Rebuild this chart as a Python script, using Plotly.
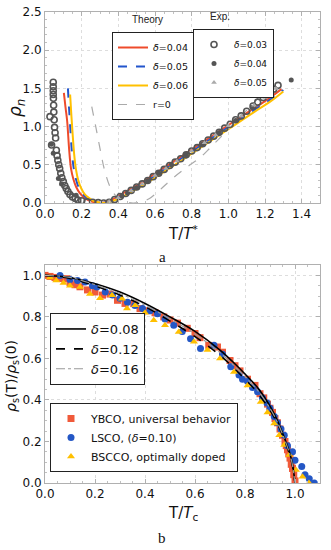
import plotly.graph_objects as go

# ---------------- Panel (a) data ----------------
th04_T = [0.103,0.112,0.121,0.132,0.142,0.155,0.170,0.190,0.212,0.238,0.265,0.295,0.33,0.37,0.42,0.48,0.55,0.63,0.72,0.82,0.92,1.02,1.12,1.21,1.29]
th04_r = [1.44,1.25,1.07,0.69,0.45,0.31,0.21,0.13,0.075,0.035,0.012,0.002,0.01,0.05,0.12,0.20,0.30,0.43,0.57,0.73,0.89,1.05,1.21,1.35,1.49]
th05_T = [0.125,0.131,0.138,0.147,0.157,0.169,0.183,0.202,0.224,0.25,0.277,0.305,0.34,0.38,0.43,0.49,0.56,0.64,0.73,0.83,0.93,1.03,1.13,1.22,1.30]
th05_r = [1.50,1.25,0.98,0.66,0.45,0.31,0.21,0.13,0.075,0.035,0.012,0.002,0.01,0.05,0.11,0.19,0.29,0.42,0.56,0.72,0.88,1.04,1.20,1.34,1.48]
th06_T = [0.137,0.143,0.150,0.159,0.169,0.181,0.196,0.215,0.237,0.262,0.29,0.318,0.35,0.39,0.44,0.50,0.57,0.65,0.74,0.84,0.94,1.04,1.14,1.23,1.30]
th06_r = [1.42,1.18,0.93,0.64,0.44,0.30,0.20,0.12,0.07,0.03,0.01,0.0,0.008,0.045,0.105,0.185,0.285,0.41,0.55,0.71,0.87,1.03,1.19,1.33,1.46]
r0_T = [0.255,0.27,0.285,0.305,0.325,0.355,0.385,0.42,0.45,0.48,0.52,0.57,0.626,0.70,0.78,0.844,0.90,0.953,1.02,1.09,1.15,1.198]
r0_r = [1.26,1.08,0.90,0.65,0.43,0.21,0.10,0.04,0.01,0.0,0.01,0.06,0.17,0.33,0.48,0.59,0.72,0.85,1.02,1.19,1.34,1.49]

ex03_T = [0.027,0.045,0.045,0.045,0.045,0.046,0.047,0.048,0.050,0.052,0.055,0.036,0.058,0.062,0.066,0.070,0.075,0.080,0.086,0.092,0.100,0.108,0.116,0.125,0.136,0.15,0.165,0.18,0.20,0.23,0.26,0.29,
          0.32,0.35,0.38,0.41,0.44,0.47,0.50,0.53,0.56,0.59,0.62,0.65,0.68,0.71,0.74,0.77,0.80,0.83,0.86,0.89,0.92,0.95,0.98,1.01,1.04,1.07,1.10,1.135,1.16,1.19,1.216,1.247,1.271]
ex03_r = [1.13,1.58,1.52,1.47,1.42,1.37,1.28,1.19,1.09,0.99,0.92,0.76,0.85,0.69,0.62,0.56,0.50,0.45,0.39,0.33,0.28,0.23,0.19,0.15,0.11,0.08,0.06,0.04,0.03,0.015,0.01,0.005,
          0.0,0.01,0.045,0.085,0.125,0.165,0.21,0.25,0.295,0.345,0.39,0.44,0.49,0.535,0.58,0.63,0.68,0.725,0.775,0.825,0.875,0.925,0.98,1.03,1.09,1.14,1.20,1.27,1.32,1.38,1.43,1.49,1.54]
ex04_T = [0.035,0.045,0.073,0.09,0.17,0.42,0.45,0.50,0.56,0.62,0.69,0.77,0.86,0.95,1.04,1.13,1.22,1.343]
ex04_r = [0.77,0.65,0.32,0.25,0.10,0.09,0.13,0.20,0.29,0.39,0.50,0.63,0.77,0.92,1.08,1.25,1.41,1.61]
ex05_T = [0.35,0.40,0.47,0.53,0.60,0.66,0.72,0.80,0.87,0.93,1.00,1.07,1.14,1.20,1.26]
ex05_r = [0.02,0.07,0.16,0.25,0.36,0.45,0.55,0.68,0.79,0.89,1.01,1.14,1.28,1.38,1.50]

# ---------------- Panel (b) data ----------------
thb_T = [0.0,0.1,0.2,0.3,0.4,0.5,0.6,0.7,0.75,0.8,0.85,0.9,0.93,0.96,0.98,0.99,1.0]
thb08 = [1.0,0.99,0.96,0.92,0.865,0.80,0.73,0.64,0.585,0.525,0.46,0.37,0.30,0.21,0.14,0.09,0.0]
thb12 = [1.0,0.985,0.95,0.905,0.85,0.78,0.705,0.615,0.56,0.50,0.435,0.35,0.285,0.20,0.13,0.08,0.0]
thb16 = [1.0,0.99,0.955,0.912,0.857,0.79,0.718,0.628,0.572,0.512,0.447,0.36,0.292,0.205,0.135,0.085,0.0]

ybco_T = [0.0,0.02,0.04,0.06,0.087,0.10,0.12,0.14,0.17,0.20,0.23,0.26,0.29,0.32,0.355,0.38,0.41,0.44,0.475,0.50,0.53,0.569,0.60,0.62,0.655,0.69,0.71,0.74,0.76,0.78,0.81,0.84,0.86,0.875,0.89,0.90,0.91,0.92,0.93,0.94,0.95,0.96,0.965,0.97,0.975,0.98,0.985,0.99,0.995,1.0]
ybco_r = [1.0,0.995,0.99,0.985,0.984,0.965,0.955,0.945,0.93,0.92,0.905,0.91,0.88,0.865,0.864,0.84,0.83,0.82,0.80,0.785,0.77,0.745,0.72,0.70,0.663,0.655,0.63,0.59,0.565,0.54,0.50,0.47,0.43,0.41,0.38,0.36,0.34,0.31,0.29,0.26,0.23,0.20,0.18,0.16,0.14,0.12,0.09,0.07,0.04,0.01]
lsco_T = [0.06,0.10,0.13,0.16,0.19,0.207,0.241,0.27,0.30,0.33,0.36,0.39,0.42,0.45,0.48,0.515,0.549,0.582,0.622,0.676,0.71,0.743,0.776,0.79,0.81,0.83,0.85,0.87,0.888,0.90,0.917,0.93,0.944,0.957,0.97,0.99,1.0,1.027,1.04,1.057,1.077]
lsco_r = [1.0,0.98,0.975,0.968,0.95,0.944,0.92,0.905,0.89,0.87,0.855,0.84,0.83,0.815,0.79,0.76,0.73,0.695,0.648,0.664,0.62,0.56,0.52,0.50,0.49,0.46,0.44,0.41,0.385,0.36,0.32,0.29,0.26,0.23,0.18,0.15,0.11,0.08,0.04,0.02,0.0]
bscco_T = [0.02,0.045,0.074,0.10,0.14,0.18,0.22,0.268,0.308,0.328,0.361,0.40,0.435,0.48,0.535,0.596,0.65,0.70,0.756,0.81,0.863,0.89,0.917,0.937,0.957,0.977,1.004,1.03,1.056]
bscco_r = [0.99,0.975,0.963,0.95,0.944,0.91,0.89,0.904,0.888,0.84,0.856,0.82,0.784,0.76,0.727,0.68,0.64,0.60,0.535,0.47,0.39,0.34,0.287,0.23,0.183,0.135,0.063,0.03,0.0]

RED = "#EE4B2B"
BLUE = "#2255CC"
GOLD = "#FFC000"
SQ = "#F05A3A"
LB = "#2457C5"

fig = go.Figure()

# panel a theory
fig.add_trace(go.Scatter(x=th04_T, y=th04_r, mode="lines", line=dict(color=RED, width=2), name="<i>δ</i>=0.04", legend="legend", line_shape="spline"))
fig.add_trace(go.Scatter(x=th05_T, y=th05_r, mode="lines", line=dict(color=BLUE, width=2, dash="dash"), name="<i>δ</i>=0.05", legend="legend", line_shape="spline"))
fig.add_trace(go.Scatter(x=th06_T, y=th06_r, mode="lines", line=dict(color=GOLD, width=2), name="<i>δ</i>=0.06", legend="legend", line_shape="spline"))
fig.add_trace(go.Scatter(x=r0_T, y=r0_r, mode="lines", line=dict(color="#aaaaaa", width=1.2, dash="dash"), name="r=0", legend="legend", line_shape="spline"))
# panel a exp
fig.add_trace(go.Scatter(x=ex03_T, y=ex03_r, mode="markers", marker=dict(symbol="circle-open", size=6, color="#555555", line=dict(width=1.6)), name="<i>δ</i>=0.03", legend="legend2"))
fig.add_trace(go.Scatter(x=ex04_T, y=ex04_r, mode="markers", marker=dict(symbol="circle", size=5, color="#555555"), name="<i>δ</i>=0.04", legend="legend2"))
fig.add_trace(go.Scatter(x=ex05_T, y=ex05_r, mode="markers", marker=dict(symbol="triangle-up", size=5, color="#aaaaaa"), name="<i>δ</i>=0.05", legend="legend2"))

# panel b exp
fig.add_trace(go.Scatter(x=ybco_T, y=ybco_r, xaxis="x2", yaxis="y2", mode="markers", marker=dict(symbol="square", size=7, color=SQ), name="YBCO, universal behavior", legend="legend4"))
fig.add_trace(go.Scatter(x=lsco_T, y=lsco_r, xaxis="x2", yaxis="y2", mode="markers", marker=dict(symbol="circle", size=7, color=LB), name="LSCO, (<i>δ</i>=0.10)", legend="legend4"))
fig.add_trace(go.Scatter(x=bscco_T, y=bscco_r, xaxis="x2", yaxis="y2", mode="markers", marker=dict(symbol="triangle-up", size=7, color=GOLD), name="BSCCO, optimally doped", legend="legend4"))
# panel b theory
fig.add_trace(go.Scatter(x=thb_T, y=thb08, xaxis="x2", yaxis="y2", mode="lines", line=dict(color="black", width=1.6), name="<i>δ</i>=0.08", legend="legend3", line_shape="spline"))
fig.add_trace(go.Scatter(x=thb_T, y=thb12, xaxis="x2", yaxis="y2", mode="lines", line=dict(color="black", width=1.6, dash="dash"), name="<i>δ</i>=0.12", legend="legend3", line_shape="spline"))
fig.add_trace(go.Scatter(x=thb_T, y=thb16, xaxis="x2", yaxis="y2", mode="lines", line=dict(color="#999999", width=1.2, dash="dashdot"), name="<i>δ</i>=0.16", legend="legend3", line_shape="spline"))

W, H = 331, 550
def px_x(p): return p / W
def px_y(p): return 1 - p / H

axis_common = dict(showline=True, linecolor="#b0b0b0", linewidth=1, mirror="allticks",
                   ticks="inside", ticklen=4, tickcolor="#b0b0b0", automargin=False,
                   showgrid=True, gridcolor="#dddddd", griddash="dot", gridwidth=1,
                   zeroline=False, tickfont=dict(family="DejaVu Sans", size=12, color="#111"),
                   minor=dict(ticks="inside", ticklen=2, tickcolor="#c0c0c0", nticks=5, showgrid=False),
                   tickformat=".1f")

fig.update_layout(
    width=W, height=H, margin=dict(l=0, r=0, t=0, b=0, autoexpand=False),
    paper_bgcolor="white", plot_bgcolor="white", showlegend=True,
    xaxis=dict(axis_common, domain=[px_x(45), px_x(320)], range=[0, 1.5], dtick=0.2, anchor="y"),
    yaxis=dict(axis_common, domain=[px_y(203), px_y(12)], range=[0, 2.5], dtick=0.5, anchor="x"),
    xaxis2=dict(axis_common, domain=[px_x(45), px_x(320)], range=[0, 1.1], dtick=0.2, anchor="y2"),
    yaxis2=dict(axis_common, domain=[px_y(483), px_y(265)], range=[0, 1.05], dtick=0.2, anchor="x2"),
    legend=dict(x=px_x(112), y=px_y(32), xanchor="left", yanchor="top", bgcolor="white",
                bordercolor="#222", borderwidth=1, font=dict(family="DejaVu Sans", size=9.5, color="#111"),
                tracegroupgap=0, itemwidth=30),
    legend2=dict(x=px_x(193), y=px_y(29), xanchor="left", yanchor="top", bgcolor="white",
                 bordercolor="#222", borderwidth=1, font=dict(family="DejaVu Sans", size=9, color="#111"),
                 itemwidth=30),
    legend3=dict(x=px_x(50), y=px_y(313), xanchor="left", yanchor="top", bgcolor="white",
                 bordercolor="#222", borderwidth=1, font=dict(family="DejaVu Sans", size=13, color="#111"),
                 itemwidth=30),
    legend4=dict(x=px_x(50), y=px_y(403), xanchor="left", yanchor="top", bgcolor="white",
                 bordercolor="#222", borderwidth=1, font=dict(family="DejaVu Sans", size=11, color="#111"),
                 itemwidth=30),
)

ann = [
    dict(text="Theory", x=px_x(147), y=px_y(19), font=dict(family="Liberation Sans", size=10, color="#222")),
    dict(text="Exp.", x=px_x(220), y=px_y(17), font=dict(family="Liberation Sans", size=10, color="#222")),
    dict(text="<i>ρ<sub>n</sub></i>", x=px_x(17), y=px_y(108), textangle=-90, font=dict(family="DejaVu Sans", size=17, color="#111")),
    dict(text="T/<i>T</i><sup>*</sup>", x=px_x(183), y=px_y(233), font=dict(family="DejaVu Sans", size=15, color="#111")),
    dict(text="a", x=px_x(162), y=px_y(257), font=dict(family="Liberation Serif", size=15, color="#111")),
    dict(text="<i>ρ</i><sub>s</sub>(T)/<i>ρ</i><sub>s</sub>(0)", x=px_x(12), y=px_y(376), textangle=-90, font=dict(family="DejaVu Sans", size=14, color="#111")),
    dict(text="T/<i>T</i><sub>c</sub>", x=px_x(183), y=px_y(513), font=dict(family="DejaVu Sans", size=15, color="#111")),
    dict(text="b", x=px_x(162), y=px_y(538), font=dict(family="Liberation Serif", size=15, color="#111")),
]
for a in ann:
    a.update(xref="paper", yref="paper", showarrow=False, xanchor="center", yanchor="middle")
fig.update_layout(annotations=ann)

fig.write_html("out.html", config={"displayModeBar": False},
               post_script="document.body.style.margin='0';document.body.style.overflow='hidden';")
